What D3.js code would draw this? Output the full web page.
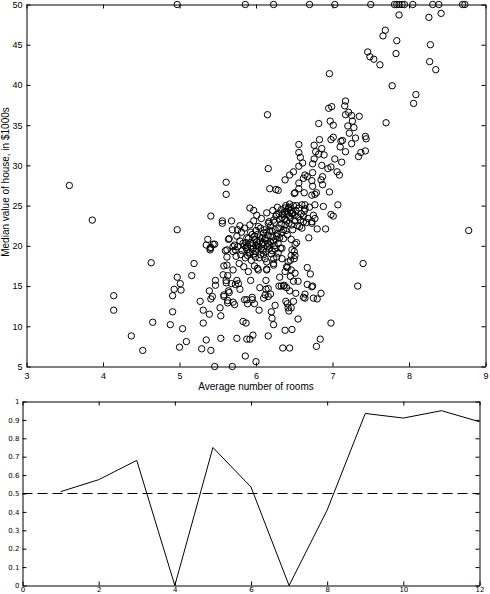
<!DOCTYPE html>
<html>
<head>
<meta charset="utf-8">
<script src="https://cdn.jsdelivr.net/npm/d3@7"></script>
<style>
  body { margin: 0; background: #fff; }
  svg { display: block; font-family: "Liberation Sans", Arial, sans-serif; }
  .axis path.domain { stroke: #000; stroke-width: 1px; }
  .axis line { stroke: #000; }
</style>
</head>
<body>
<div id="chart"></div>
<script>
// average number of rooms (x) and median value in $1000s (y)
var rooms = [
  3.56, 5.61, 5.61,
  4.97, 5.86, 6.23, 6.70, 7.03, 7.50, 7.81, 7.84, 7.87, 7.91, 7.94, 8.05, 8.31, 8.39, 8.70, 8.73,
  7.87, 8.26, 8.42, 7.69, 7.66, 7.84, 8.28, 7.83, 7.46, 7.49, 7.54, 7.62, 8.27, 8.35, 6.96, 7.78,
  8.09, 8.06, 7.70, 6.15, 7.17, 7.16, 6.95, 6.99, 7.21, 7.17, 7.25, 7.35, 7.26, 6.97, 7.01, 6.82,
  7.20, 7.28, 7.22, 7.01, 6.98, 7.13, 7.11, 7.30, 7.43, 7.44, 6.83, 7.25, 7.17, 7.10, 6.56, 6.76,
  6.86, 6.78, 6.89, 6.82, 6.56, 6.58, 6.76, 6.61, 7.03, 7.12, 7.34, 7.43, 7.37, 6.56, 6.74, 6.86,
  6.98, 6.94, 7.06, 7.09, 6.16, 6.49, 6.44, 6.38, 6.64, 6.67, 6.62, 6.74, 6.73, 6.87, 6.85, 6.87,
  6.56, 6.74, 6.18, 6.26, 6.56, 6.50, 6.63, 6.73, 6.79, 6.96,
  3.86, 4.97, 4.63, 4.14, 4.14, 4.65, 4.37, 4.52, 4.88, 5.04, 5.00, 5.09, 4.97, 5.01, 4.93, 5.02,
  4.91, 4.91, 5.19, 5.16, 5.27, 5.31, 5.31, 5.29, 5.35, 5.41, 5.46, 5.69, 5.41, 5.56, 5.56, 5.68,
  5.37, 5.35, 5.40, 5.41, 5.46, 5.39, 5.43, 5.41, 5.39, 5.47, 5.47, 5.53, 5.54, 5.54, 5.75, 5.60,
  5.64, 5.62, 5.58, 5.62, 5.63, 5.61, 5.64, 5.58, 5.63, 5.70, 5.72, 5.75, 5.73, 5.79, 5.85, 5.83,
  5.86, 5.69, 5.76, 5.79, 5.70, 5.73,
  8.78, 7.40, 7.33, 6.98, 6.84, 6.79, 6.35, 6.44, 6.38, 6.47, 6.16, 6.00, 5.96, 5.92, 5.88, 6.23,
  6.21, 6.55, 6.42, 6.41, 6.39, 6.49, 6.25, 6.04, 5.98, 5.95, 5.89, 6.10, 6.19, 6.16, 6.13, 6.05,
  6.13, 5.93, 6.31, 6.30, 6.36, 6.40, 6.44, 6.52, 6.64, 6.67, 6.73, 6.64, 6.75, 6.80, 6.85, 6.55,
  6.49, 6.67, 6.71, 6.51, 6.46, 6.41, 6.42, 6.50, 6.03, 5.98, 6.14, 6.23, 6.34, 6.46, 6.50, 6.51,
  6.53, 6.69, 6.80, 6.91, 6.73, 6.77, 6.62, 6.77, 6.88, 7.07, 6.98, 7.01, 6.64, 6.51, 6.77, 6.29,
  5.61, 5.77, 5.58, 5.65, 5.63, 5.87, 5.88, 5.95,
  6.20, 6.43, 6.46, 6.62, 6.74, 6.33, 6.37, 6.16, 6.12,
  6.75, 6.73, 6.60, 6.47, 6.51, 6.34, 6.27, 6.23, 6.14, 6.45, 6.40, 6.38, 6.45, 6.14, 6.23,
  5.44, 5.40, 5.65, 5.62, 5.92, 5.97, 6.01, 5.57, 5.70, 5.68,
  5.70, 5.72, 5.74, 5.75, 5.76, 5.78, 5.79, 5.80, 5.81, 5.82, 5.83, 5.84, 5.85, 5.86, 5.87, 5.88,
  5.89, 5.90, 5.91, 5.92, 5.93, 5.94, 5.95, 5.96, 5.97, 5.98, 5.99, 6.00, 6.00, 6.01, 6.02, 6.03,
  6.04, 6.05, 6.06, 6.07, 6.08, 6.09, 6.10, 6.11, 6.12, 6.13, 6.14, 6.15, 6.16, 6.17, 6.18, 6.19,
  6.20, 6.21, 6.22, 6.23, 6.24, 6.25, 6.26, 6.27, 6.28, 6.29, 6.30, 6.31, 6.32, 6.33, 6.34, 6.35,
  6.36, 6.37, 6.38, 6.39, 6.40, 6.41, 6.42, 6.43, 6.44, 6.45, 6.46, 6.47, 6.48, 6.49, 6.50, 6.52,
  6.54, 6.56, 6.58, 6.60, 6.63, 6.66, 6.70,
  5.85, 5.87, 5.88, 5.89, 5.90, 5.92, 5.93, 5.94, 5.96, 5.97, 5.98, 6.00, 6.01, 6.02, 6.03, 6.04,
  6.05, 6.06, 6.07, 6.08, 6.09, 6.10, 6.12, 6.13, 6.14, 6.15, 6.16, 6.17, 6.18, 6.19, 6.21, 6.22,
  6.23, 6.24, 6.25, 6.26, 6.27, 6.28, 6.29, 6.30, 6.31, 6.33, 6.34, 6.36, 6.37, 6.38, 6.39, 6.40,
  6.41, 6.43, 6.44, 6.46, 6.47, 6.48, 6.51, 6.53, 6.55, 6.57, 6.59, 6.62, 6.64, 6.68
];
var medv = [
  27.5, 27.9, 26.4,
  50, 50, 50, 50, 50, 50, 50, 50, 50, 50, 50, 50, 50, 50, 50, 50,
  48.7, 48.4, 48.9, 46.8, 46.1, 45.5, 45.0, 43.9, 44.1, 43.5, 43.2, 42.5, 42.9, 41.9, 41.4, 39.9,
  38.8, 37.7, 35.3, 36.3, 38.0, 37.4, 37.1, 37.3, 36.6, 36.3, 36.2, 36.1, 35.5, 35.5, 35.0, 35.2,
  34.9, 34.7, 34.0, 33.5, 33.2, 33.1, 33.0, 33.4, 33.6, 33.3, 33.2, 32.7, 31.7, 32.3, 32.6, 32.5,
  32.1, 31.7, 31.3, 31.4, 31.6, 31.0, 30.8, 30.3, 30.8, 30.4, 31.1, 31.8, 31.6, 29.9, 30.2, 30.0,
  29.8, 29.6, 29.2, 28.8, 29.6, 29.2, 28.8, 28.2, 28.8, 28.6, 28.4, 29.1, 28.1, 28.6, 28.2, 27.6,
  27.8, 27.4, 27.1, 27.0, 27.1, 26.5, 26.6, 26.3, 26.6, 26.7,
  23.2, 22.0, 17.9, 13.8, 12.0, 10.5, 8.8, 7.0, 10.2, 9.7, 7.4, 8.1, 16.1, 15.3, 14.6, 14.5,
  13.8, 11.8, 17.8, 16.3, 13.1, 12.0, 10.4, 7.2, 8.3, 7.0, 5.0, 5.0, 23.7, 23.1, 22.8, 23.1,
  20.8, 20.1, 19.5, 19.8, 20.2, 14.4, 13.7, 13.4, 11.5, 15.7, 15.1, 12.3, 11.3, 8.5, 8.5, 19.4,
  20.8, 18.6, 17.5, 17.6, 16.3, 15.7, 14.4, 13.7, 12.9, 13.0, 12.7, 15.7, 15.2, 14.6, 13.3, 10.6,
  6.3, 22.0, 22.0, 22.5, 19.9, 19.5,
  21.9, 17.8, 15.0, 10.4, 8.4, 7.5, 7.3, 7.3, 9.5, 9.6, 8.8, 5.6, 8.9, 8.4, 8.4, 10.2,
  11.0, 10.9, 12.3, 12.8, 13.1, 13.1, 12.6, 12.0, 12.8, 13.3, 12.8, 13.5, 14.0, 13.7, 14.6, 14.8,
  15.7, 15.7, 16.1, 15.0, 15.0, 14.8, 14.4, 14.1, 14.0, 15.2, 14.9, 13.5, 13.5, 13.4, 14.1, 15.6,
  15.6, 17.3, 16.5, 16.6, 17.0, 17.3, 18.0, 18.4, 17.0, 17.5, 17.1, 17.8, 18.4, 18.8, 19.3, 20.2,
  20.4, 21.0, 22.1, 22.1, 22.8, 23.4, 23.7, 25.1, 24.9, 25.1, 23.9, 23.7, 25.1, 26.6, 26.4, 26.9,
  15.4, 15.3, 13.9, 14.2, 13.2, 10.4, 13.3, 13.6,
  11.8, 11.9, 12.3, 13.6, 15.0, 15.0, 15.1, 14.7, 13.9,
  23.8, 23.0, 22.2, 19.5, 18.8, 19.7, 18.6, 18.4, 18.0, 18.2, 17.4, 16.8, 16.2, 17.0, 17.6,
  20.2, 19.7, 20.9, 19.5, 24.7, 24.4, 23.8, 16.4, 17.0, 15.3,
  19.3, 20.1, 18.7, 21.2, 19.9, 17.8, 20.6, 18.9, 21.7, 19.4, 20.3, 17.4, 22.2, 18.5, 19.8, 21.0,
  20.0, 16.8, 19.1, 22.6, 20.4, 18.2, 21.4, 19.6, 23.1, 20.8, 18.6, 21.9, 19.3, 20.5, 17.2, 22.4,
  19.8, 21.1, 18.9, 23.4, 20.2, 19.4, 21.6, 22.0, 18.4, 20.7, 24.1, 19.9, 21.3, 23.0, 20.1, 22.5,
  19.0, 21.8, 24.4, 20.6, 22.9, 19.6, 23.7, 21.2, 24.8, 20.3, 22.2, 23.3, 19.7, 24.5, 21.7, 23.9,
  20.9, 24.2, 22.6, 25.0, 23.1, 21.4, 24.6, 22.8, 25.2, 23.5, 20.8, 24.0, 22.0, 25.0, 23.8, 24.4,
  22.5, 24.7, 23.2, 25.1, 24.3, 22.9, 24.8,
  20.0, 20.4, 19.5, 18.8, 20.9, 19.2, 21.7, 20.0, 20.3, 19.0, 21.2, 20.0, 19.6, 21.4, 20.1, 18.5,
  20.6, 22.2, 19.7, 21.0, 20.4, 18.9, 20.9, 19.3, 21.7, 20.3, 22.8, 19.6, 21.9, 20.5, 19.4, 21.1,
  23.2, 20.0, 22.0, 20.8, 23.9, 21.5, 19.1, 24.0, 21.0, 22.7, 23.5, 22.0, 23.3, 24.7, 21.9, 24.3,
  23.9, 24.8, 23.7, 24.4, 22.6, 24.1, 23.1, 25.0, 23.6, 22.4, 24.0, 23.0, 24.6, 23.4
];

// lower panel
var stepX = [1, 2, 3, 4, 5, 6, 7, 8, 9, 10, 11, 12];
var stepY = [0.51, 0.575, 0.68, 0.0, 0.75, 0.535, 0.0, 0.41, 0.935, 0.91, 0.95, 0.89];
var refLevel = 0.5;

var roomTicks = [3, 4, 5, 6, 7, 8, 9];
var valueTicks = [5, 10, 15, 20, 25, 30, 35, 40, 45, 50];
var stepTicks = [0, 2, 4, 6, 8, 10, 12];
var fracTicks = [0, 0.1, 0.2, 0.3, 0.4, 0.5, 0.6, 0.7, 0.8, 0.9, 1];

var svg = d3.select("#chart").append("svg")
  .attr("width", 490)
  .attr("height", 594);

// ---- upper panel: scatter ----
var x = d3.scaleLinear().domain([3, 9]).range([26.5, 485.5]);
var y = d3.scaleLinear().domain([5, 50]).range([366.5, 4.5]);

var upper = svg.append("g");

upper.append("g").attr("class", "axis")
  .attr("transform", "translate(0,366.5)")
  .call(d3.axisBottom(x).tickValues(roomTicks).tickSizeInner(-4).tickSizeOuter(0).tickPadding(6).tickFormat(d3.format("d")));
upper.append("g").attr("class", "axis")
  .attr("transform", "translate(0,4.5)")
  .call(d3.axisTop(x).tickValues(roomTicks).tickSizeInner(-4).tickSizeOuter(0).tickFormat(""));
upper.append("g").attr("class", "axis")
  .attr("transform", "translate(26.5,0)")
  .call(d3.axisLeft(y).tickValues(valueTicks).tickSizeInner(-4).tickSizeOuter(0).tickPadding(4).tickFormat(d3.format("d")));
upper.append("g").attr("class", "axis")
  .attr("transform", "translate(485.5,0)")
  .call(d3.axisRight(y).tickValues(valueTicks).tickSizeInner(-4).tickSizeOuter(0).tickFormat(""));

upper.selectAll(".axis text")
  .style("font-size", "9px")
  .style("fill", "#000");

upper.selectAll("circle")
  .data(rooms)
  .enter().append("circle")
    .attr("cx", function(d){ return x(d); })
    .attr("cy", function(d, i){ return y(medv[i]); })
    .attr("r", 3.2)
    .style("fill", "none")
    .style("stroke", "#000")
    .style("stroke-width", "1px");

upper.append("text")
  .attr("x", 256)
  .attr("y", 390)
  .attr("text-anchor", "middle")
  .style("font-size", "10px")
  .text("Average number of rooms");

upper.append("text")
  .attr("transform", "translate(9,182) rotate(-90)")
  .attr("text-anchor", "middle")
  .style("font-size", "10px")
  .text("Median value of house, in $1000s");

// ---- lower panel: line ----
var x2 = d3.scaleLinear().domain([0, 12]).range([22.5, 479.5]);
var y2 = d3.scaleLinear().domain([0, 1]).range([585.5, 401.5]);

var lower = svg.append("g");

lower.append("g").attr("class", "axis")
  .attr("transform", "translate(0,585.5)")
  .call(d3.axisBottom(x2).tickValues(stepTicks).tickSizeInner(-4).tickSizeOuter(0).tickPadding(1.5).tickFormat(d3.format("d")));
lower.append("g").attr("class", "axis")
  .attr("transform", "translate(0,401.5)")
  .call(d3.axisTop(x2).tickValues(stepTicks).tickSizeInner(-4).tickSizeOuter(0).tickFormat(""));
lower.append("g").attr("class", "axis")
  .attr("transform", "translate(22.5,0)")
  .call(d3.axisLeft(y2).tickValues(fracTicks).tickSizeInner(-4).tickSizeOuter(0).tickPadding(3).tickFormat(function(d){ return d === 0 || d === 1 ? d3.format("d")(d) : d3.format(".1f")(d); }));
lower.append("g").attr("class", "axis")
  .attr("transform", "translate(479.5,0)")
  .call(d3.axisRight(y2).tickValues(fracTicks).tickSizeInner(-4).tickSizeOuter(0).tickFormat(""));

lower.selectAll(".axis text")
  .style("font-family", "'DejaVu Sans', sans-serif")
  .style("font-size", "7px")
  .style("fill", "#000");

lower.append("line")
  .attr("x1", x2(0)).attr("x2", x2(12))
  .attr("y1", y2(refLevel)).attr("y2", y2(refLevel))
  .style("stroke", "#000")
  .style("stroke-width", "1px")
  .style("stroke-dasharray", "10 5");

var stepLine = d3.line()
  .x(function(d, i){ return x2(stepX[i]); })
  .y(function(d){ return y2(d); });

lower.append("path")
  .datum(stepY)
  .attr("d", stepLine)
  .style("fill", "none")
  .style("stroke", "#000")
  .style("stroke-width", "1px");

svg.selectAll("path.domain").style("stroke", "#000");
</script>
</body>
</html>
